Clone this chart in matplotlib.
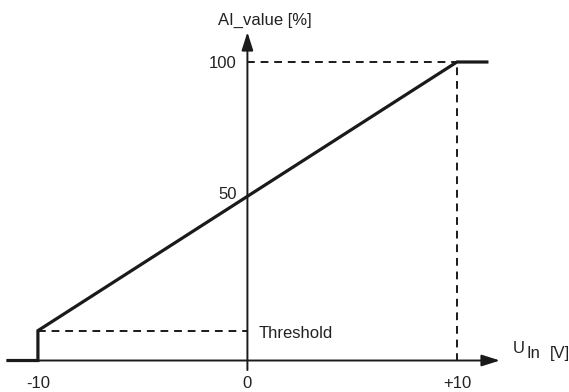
import matplotlib
matplotlib.use("Agg")
import matplotlib.pyplot as plt

# Data
x_points = [-11.43, -10, -10, 10, 11.43]
threshold = 10
y_points = [0, 0, threshold, 100, 100]
xtick_vals = [-10, 0, 10]
xtick_labels = ["-10", "0", "+10"]
ytick_vals = [97.9, 54.1]
ytick_labels = ["100", "50"]

plt.rcParams['font.family'] = ['Liberation Sans', 'DejaVu Sans']
FS = 12
TC = '#222222'

fig = plt.figure(figsize=(5.69, 3.92), dpi=100)
ax = fig.add_axes([0, 0, 1, 1])
ax.set_xlim(-11.81, 15.35)
ax.set_ylim(-10.55, 120.77)
ax.axis('off')

col = '#1a1a1a'
# axes with arrows
ax.annotate('', xy=(12.05, 0), xytext=(-11.43, 0),
            arrowprops=dict(arrowstyle='-|>,head_length=1.1,head_width=0.35',
                            lw=1.4, color=col, shrinkA=0, shrinkB=0))
ax.annotate('', xy=(0, 110.0), xytext=(0, -3.2),
            arrowprops=dict(arrowstyle='-|>,head_length=1.1,head_width=0.35',
                            lw=1.4, color=col, shrinkA=0, shrinkB=0))

# dashed guides
ax.plot([-10, 0], [threshold, threshold], ls=(0, (4, 3)), lw=1.4, color=col)
ax.plot([0, 10], [100, 100], ls=(0, (4, 3)), lw=1.4, color=col)
ax.plot([10, 10], [0, 100], ls=(0, (4, 3)), lw=1.4, color=col)

# main characteristic
ax.plot(x_points, y_points, lw=2.3, color=col, solid_joinstyle='miter')

# tick labels
for v, lab in zip(xtick_vals, xtick_labels):
    ax.text(v, -9.2, lab, ha='center', va='baseline', fontsize=FS, color=TC)
for v, lab in zip(ytick_vals, ytick_labels):
    ax.text(-0.5, v, lab, ha='right', va='baseline', fontsize=FS, color=TC)

ax.text(0.55, 7.64, 'Threshold', ha='left', va='baseline', fontsize=FS, color=TC)
ax.text(-1.42, 112.6, 'AI_value [%]', ha='left', va='baseline', fontsize=FS, color=TC)
ax.text(12.67, 2.4, 'U', ha='left', va='baseline', fontsize=FS, color=TC)
ax.text(13.32, 0.74, 'In', ha='left', va='baseline', fontsize=FS, color=TC)
ax.text(14.43, 0.74, '[V]', ha='left', va='baseline', fontsize=FS, color=TC)

fig.savefig('out.png', dpi=100)
